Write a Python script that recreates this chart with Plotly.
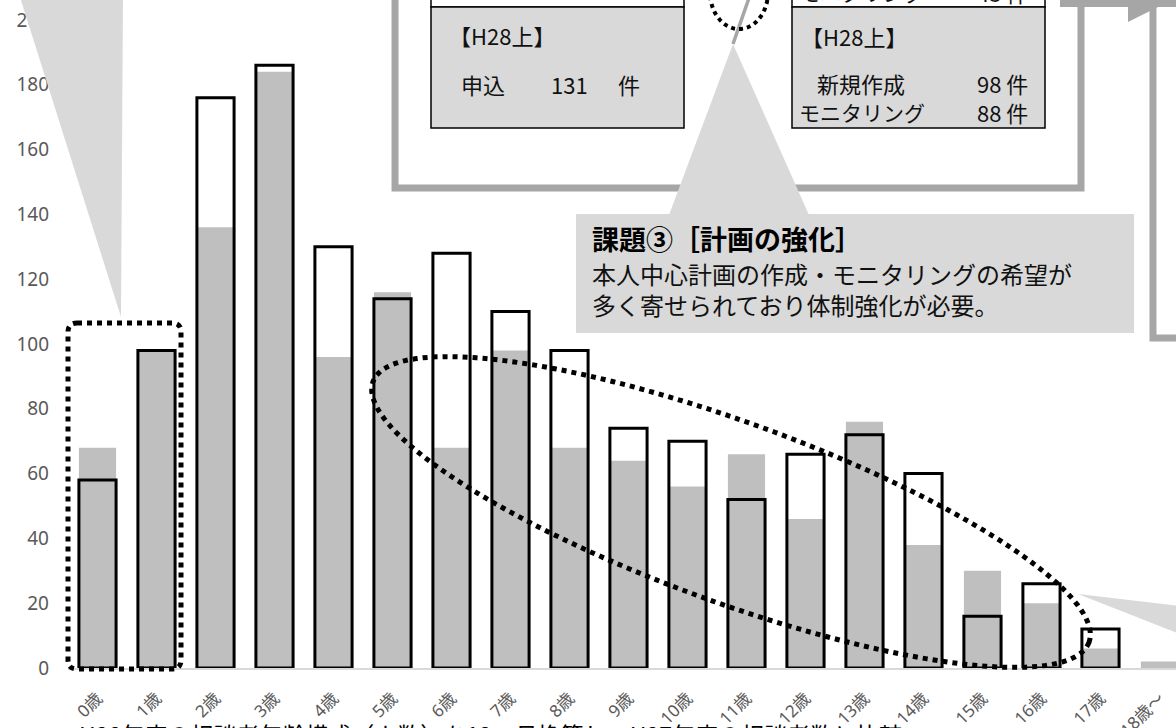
import math
import plotly.graph_objects as go

# ---------------- data ----------------
categories = ["0歳", "1歳", "2歳", "3歳", "4歳", "5歳", "6歳", "7歳", "8歳", "9歳",
              "10歳", "11歳", "12歳", "13歳", "14歳", "15歳", "16歳", "17歳", "18歳～"]
# gray filled bars
gray_values = [68, 98, 136, 184, 96, 116, 68, 98, 68, 64, 56, 66, 46, 76, 38, 30, 20, 6, 2]
# black outlined bars
outline_values = [58, 98, 176, 186, 130, 114, 128, 110, 98, 74, 70, 52, 66, 72, 60, 16, 26, 12, None]
y_ticks = [0, 20, 40, 60, 80, 100, 120, 140, 160, 180, 200]

# ---------------- layout geometry ----------------
W, H = 1176, 728
L, R, T, B = 68, 0, 0, 60
PW, PH = W - L - R, H - T - B

def px(x):
    return (x - L) / PW

def py(y):
    return (H - B - y) / PH

def poly(points, close=True):
    s = "M" + " L".join(f"{px(x):.5f},{py(y):.5f}" for x, y in points)
    return s + (" Z" if close else "")

def ellipse_pts(cx, cy, a, b, ang, n=180):
    t = math.radians(ang)
    pts = []
    for i in range(n + 1):
        p = 2 * math.pi * i / n
        x = cx + a * math.cos(p) * math.cos(t) - b * math.sin(p) * math.sin(t)
        y = cy + a * math.cos(p) * math.sin(t) + b * math.sin(p) * math.cos(t)
        pts.append((x, y))
    return pts

def rounded_rect(x0, y0, x1, y1, r):
    return ("M{} L{} Q{} {} L{} Q{} {} L{} Q{} {} L{} Q{} {} Z".format(
        f"{px(x0 + r)},{py(y0)}", f"{px(x1 - r)},{py(y0)}",
        f"{px(x1)},{py(y0)}", f"{px(x1)},{py(y0 + r)}", f"{px(x1)},{py(y1 - r)}",
        f"{px(x1)},{py(y1)}", f"{px(x1 - r)},{py(y1)}", f"{px(x0 + r)},{py(y1)}",
        f"{px(x0)},{py(y1)}", f"{px(x0)},{py(y1 - r)}", f"{px(x0)},{py(y0 + r)}",
        f"{px(x0)},{py(y0)}", f"{px(x0 + r)},{py(y0)}"))

LIGHT = "#d9d9d9"
FRAME = "#a6a6a6"
JP = "Noto Sans CJK JP"

fig = go.Figure()
fig.add_trace(go.Bar(x=categories, y=gray_values, width=0.63,
                     marker=dict(color="#bfbfbf", line=dict(width=0)), hoverinfo="skip"))
fig.add_trace(go.Bar(x=categories, y=outline_values, width=0.63,
                     marker=dict(color="rgba(0,0,0,0)", line=dict(color="black", width=3)),
                     hoverinfo="skip"))

shapes = []
def add_path(path, fill=None, line_color=None, width=0, dash="solid", layer="above"):
    d = dict(type="path", path=path, xref="paper", yref="paper", layer=layer,
             line=dict(width=width, color=line_color or "rgba(0,0,0,0)", dash=dash))
    if fill:
        d["fillcolor"] = fill
    shapes.append(d)

# top-left light triangle (callout pointer)
add_path(poly([(19, -6), (123, -6), (121, 317)]), fill=LIGHT)
# light triangle near 17歳
add_path(poly([(1078, 594), (1180, 606), (1180, 634)]), fill=LIGHT)

# gray frame lines
add_path(poly([(395, -10), (395, 188), (1081, 188), (1081, -10)], close=False),
         line_color=FRAME, width=7)
add_path(poly([(1153, 4), (1153, 338), (1185, 338)], close=False), line_color=FRAME, width=7)
add_path(poly([(1060, -5), (1180, -5), (1180, 7), (1060, 7)]), fill=FRAME)
add_path(poly([(1128, 0), (1128, 22), (1172, 0)]), fill=FRAME)

# info boxes
for x0, x1 in [(431, 684), (792, 1045)]:
    add_path(poly([(x0, -5), (x1, -5), (x1, 7), (x0, 7)]), fill="white",
             line_color="black", width=1.5)
    add_path(poly([(x0, 7), (x1, 7), (x1, 128), (x0, 128)]), fill=LIGHT,
             line_color="black", width=1.5)

# callout box for 課題③
add_path(poly([(733, 44), (669, 215), (809, 215)]), fill=LIGHT)
add_path(poly([(576, 214), (1134, 214), (1134, 333), (576, 333)]), fill=LIGHT)
add_path(poly([(749, -2), (733, 44)], close=False), line_color=FRAME, width=3.5)

# dotted shapes
add_path(poly(ellipse_pts(739, -8, 29, 37, 0)), line_color="black", width=4, dash="dot")
add_path(rounded_rect(68, 323, 181, 669, 9), line_color="black", width=5, dash="dot")
add_path(poly(ellipse_pts(731, 512, 381, 90, 20)), line_color="black", width=5, dash="dot")

annotations = []
def text(x, y, s, size=22, bold=False, anchor="left", color="#111111", yanchor="middle"):
    annotations.append(dict(x=px(x), y=py(y), xref="paper", yref="paper", text=s,
                            showarrow=False, xanchor=anchor, yanchor=yanchor, borderpad=0,
                            align="left",
                            font=dict(family=JP, size=size, color=color)))
    if bold:
        annotations[-1]["text"] = f"<b>{s}</b>"

# box 1
text(448, 35, "【H28上】", 22)
text(460, 84, "申込", 22)
text(550, 84, "131", 22)
text(617, 84, "件", 22)
# box 2
text(800, 36, "【H28上】", 22)
text(816, 83, "新規作成", 22)
text(976, 83, "98 件", 22)
text(798, 112, "モニタリング", 21)
text(976, 112, "88 件", 22)
text(798, -8, "モニタリング", 21)
text(976, -8, "43 件", 22)
# 課題③
text(591, 239, "課題③［計画の強化］", 27, bold=True, color="#000000")
text(591, 289, "本人中心計画の作成・モニタリングの希望が<br>多く寄せられており体制強化が必要。", 24)
# bottom caption (cut off by the picture edge)
text(78, 716, "H28年度の相談者年齢構成（人数）を12ヶ月換算し、H27年度の相談者数と比較",
     23, yanchor="top", color="#000000")

fig.update_layout(
    width=W, height=H,
    margin=dict(l=L, r=R, t=T, b=B, autoexpand=False),
    paper_bgcolor="white", plot_bgcolor="white",
    showlegend=False, barmode="overlay",
    shapes=shapes, annotations=annotations,
    xaxis=dict(type="category", range=[-0.5, 18.28], showline=True, linecolor=LIGHT,
               linewidth=1.5, tickangle=-45, ticks="", showgrid=False, zeroline=False,
               automargin=False,
               tickfont=dict(family="Noto Sans, " + JP, size=17, color="#595959"),
               ticklabelstandoff=12),
    yaxis=dict(range=[0, 668 / 3.24], tickvals=y_ticks, showgrid=False, zeroline=False,
               showline=False, ticks="", automargin=False,
               tickfont=dict(family="Noto Sans", size=19, color="#595959"),
               ticklabelstandoff=18),
)

fig.write_html("out.html")
